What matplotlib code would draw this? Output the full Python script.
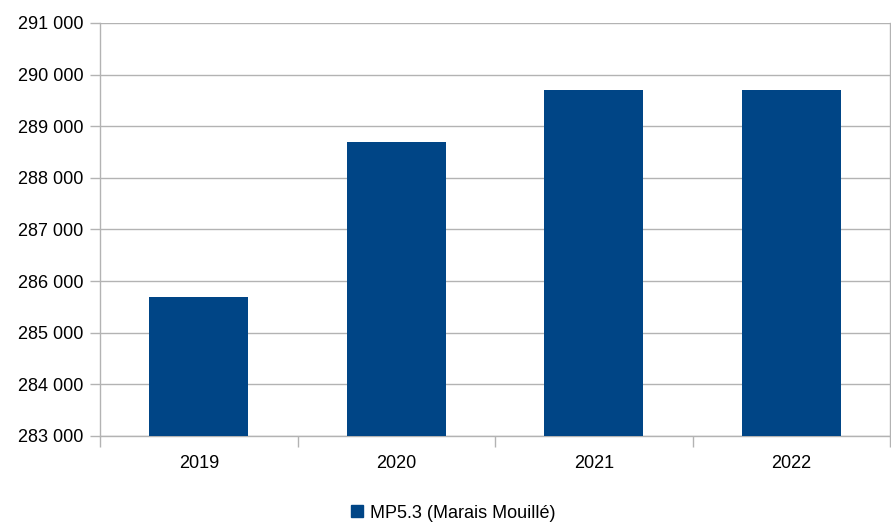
import numpy as np
import matplotlib.pyplot as plt
from matplotlib.ticker import FuncFormatter, FixedLocator
from matplotlib.lines import Line2D

years = ["2019", "2020", "2021", "2022"]
values = [285700, 288700, 289700, 289700]
series_name = "MP5.3 (Marais Mouillé)"

plt.rcParams['font.family'] = ['Liberation Sans', 'DejaVu Sans']

bar_color = "#004586"
grid_color = "#b3b3b3"

fig = plt.figure(figsize=(8.91, 5.25), dpi=100)
ax = fig.add_axes([100 / 891, 89 / 525, 790 / 891, 413 / 525])

x = np.arange(len(years))
ax.bar(x, np.array(values) - 283000, bottom=283000, width=0.5, color=bar_color, zorder=3)

ax.set_xlim(-0.5, len(years) - 0.5)
ax.set_ylim(283000, 291000)
ax.set_yticks(np.arange(283000, 291001, 1000))
ax.yaxis.set_major_formatter(FuncFormatter(lambda v, p: f"{int(v):,}".replace(",", " ")))
ax.grid(axis="y", color=grid_color, linewidth=1, zorder=0)

ax.set_xticks(x)
ax.set_xticklabels(years)
ax.xaxis.set_minor_locator(FixedLocator(np.arange(-0.5, len(years), 1.0)))
ax.tick_params(axis="x", which="major", length=0, pad=14, labelsize=13)
ax.tick_params(axis="x", which="minor", length=8, color=grid_color, width=1)
ax.tick_params(axis="y", length=7, color=grid_color, width=1, pad=5, labelsize=13)

for s in ["top"]:
    ax.spines[s].set_visible(False)
for s in ["left", "bottom", "right"]:
    ax.spines[s].set_color(grid_color)
    ax.spines[s].set_linewidth(1)

handle = Line2D([], [], marker="s", linestyle="none", markersize=8,
                markerfacecolor=bar_color, markeredgecolor=bar_color)
fig.legend([handle], [series_name], loc="center", bbox_to_anchor=(452 / 891, 1 - 513 / 525),
           frameon=False, fontsize=13, handletextpad=0.2, handlelength=1.0)

fig.savefig("out.png", dpi=100)
